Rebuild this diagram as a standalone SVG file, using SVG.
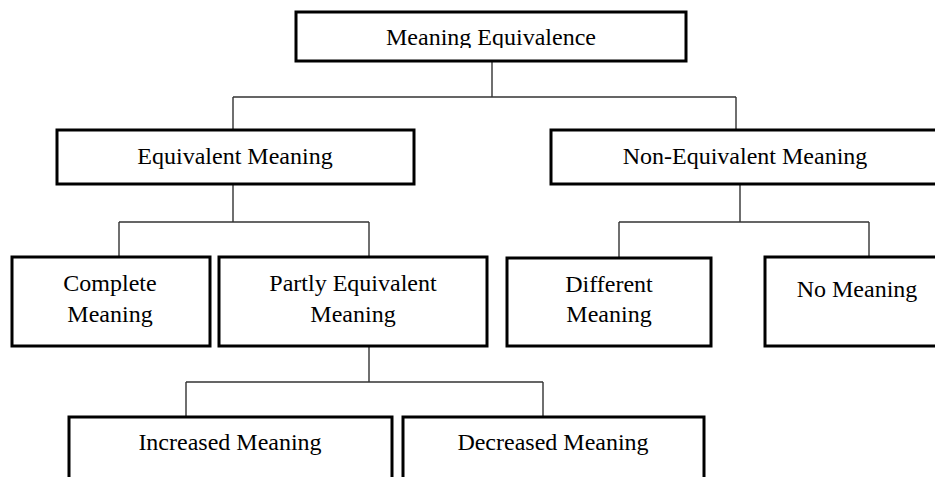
<svg xmlns="http://www.w3.org/2000/svg" width="935" height="477" viewBox="0 0 935 477">
<style>
.box{fill:#fff;stroke:#000;stroke-width:3}
.lbl{font-family:"Liberation Serif","Times New Roman",serif;font-size:24px;fill:#000;text-anchor:middle}
.conn{stroke:#333;stroke-width:1.4;fill:none}
</style>
<defs>
<clipPath id="topclip"><rect x="296" y="12" width="390" height="36"/></clipPath>
</defs>
<rect width="935" height="477" fill="#fff"/>
<g id="connectors">
<path class="conn" d="M492 61V97M233 97H736M233 97V130M736 97V130"/>
<path class="conn" d="M233 184V222M119 222H369M119 222V257M369 222V257"/>
<path class="conn" d="M740 184V222M619 222H869M619 222V257M869 222V257"/>
<path class="conn" d="M369 346V382M186 382H543M186 382V417M543 382V417"/>
</g>
<g id="n-meaning-equivalence">
<rect class="box" x="296" y="12" width="390" height="49"/>
<text class="lbl" x="491" y="45" clip-path="url(#topclip)">Meaning Equivalence</text>
</g>
<g id="n-equivalent">
<rect class="box" x="57" y="130" width="357" height="54"/>
<text class="lbl" x="235" y="164">Equivalent Meaning</text>
</g>
<g id="n-non-equivalent">
<rect class="box" x="551" y="130" width="400" height="54"/>
<text class="lbl" x="745" y="164">Non-Equivalent Meaning</text>
</g>
<g id="n-complete">
<rect class="box" x="12" y="257" width="198" height="89"/>
<text class="lbl" x="110" y="291">Complete</text>
<text class="lbl" x="110" y="322">Meaning</text>
</g>
<g id="n-partly">
<rect class="box" x="219" y="257" width="268" height="89"/>
<text class="lbl" x="353" y="291">Partly Equivalent</text>
<text class="lbl" x="353" y="322">Meaning</text>
</g>
<g id="n-different">
<rect class="box" x="507" y="258" width="204" height="88"/>
<text class="lbl" x="609" y="292">Different</text>
<text class="lbl" x="609" y="322">Meaning</text>
</g>
<g id="n-no-meaning">
<rect class="box" x="765" y="257" width="190" height="89"/>
<text class="lbl" x="857" y="297">No Meaning</text>
</g>
<g id="n-increased">
<rect class="box" x="69" y="417" width="323" height="80"/>
<text class="lbl" x="230" y="450">Increased Meaning</text>
</g>
<g id="n-decreased">
<rect class="box" x="403" y="417" width="301" height="80"/>
<text class="lbl" x="553" y="450">Decreased Meaning</text>
</g>
</svg>
